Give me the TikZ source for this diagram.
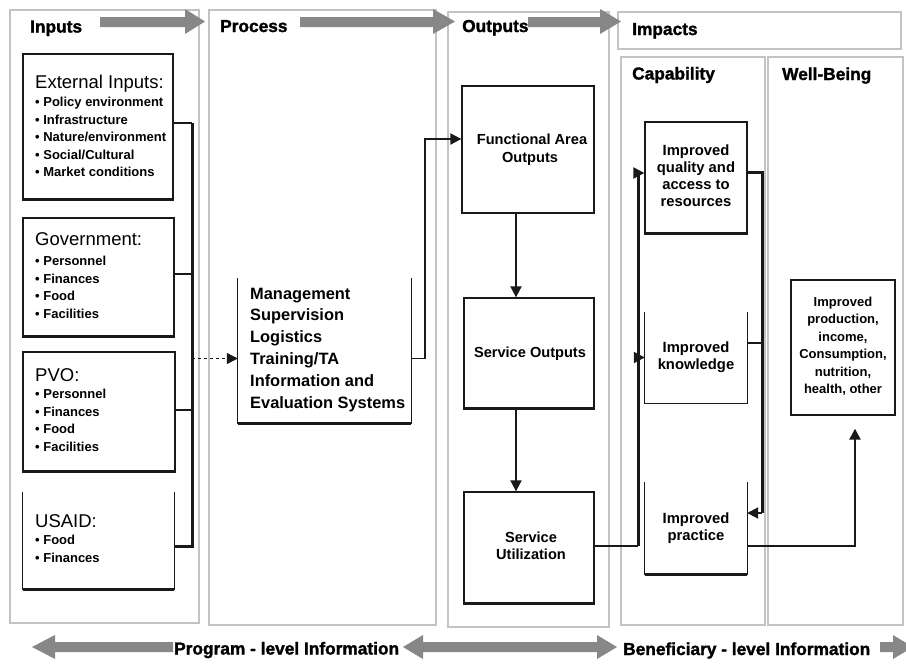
\documentclass[tikz,border=0pt]{standalone}
\usepackage{fontspec}
\setmainfont{Liberation Sans}
\newfontfamily\heavyfont[FakeBold=1.6]{Liberation Sans Bold}
\usetikzlibrary{arrows.meta}

\definecolor{framegray}{RGB}{195,195,195}
\definecolor{bandgray}{RGB}{135,135,135}
\definecolor{ink}{RGB}{25,25,25}

\tikzset{
  colframe/.style={draw=framegray, line width=2.2pt},
  blackbox/.style={draw=ink, line width=1.3pt, inner sep=0pt},
  openbox/.style={inner sep=0pt},
  hdr/.style={anchor=base west, inner sep=0pt, font=\heavyfont\fontsize{17.3}{20}\selectfont},
  ttl/.style={anchor=base west, inner sep=0pt, font=\fontsize{18.5}{22}\selectfont},
  bul/.style={anchor=base west, inner sep=0pt, font=\bfseries\fontsize{13}{15}\selectfont},
  proctxt/.style={anchor=base west, inner sep=0pt, font=\bfseries\fontsize{16.4}{20}\selectfont},
  outtxt/.style={anchor=base, inner sep=0pt, font=\bfseries\fontsize{14.6}{17}\selectfont},
  captxt/.style={anchor=base, inner sep=0pt, font=\bfseries\fontsize{14.8}{17}\selectfont},
  wbtxt/.style={anchor=base, inner sep=0pt, font=\bfseries\fontsize{13}{15}\selectfont},
  conn/.style={draw=ink, line width=1.9pt},
  thinconn/.style={draw=ink, line width=1.3pt},
  busline/.style={draw=ink, line width=3pt},
  arrowend/.style={-{Triangle[length=11pt,width=11pt]}},
  grayband/.style={fill=bandgray},
  floorline/.style={draw=ink, line width=2.6pt},
  sideline/.style={draw=ink, line width=1.3pt},
}

\begin{document}
\begin{tikzpicture}[x=1pt,y=-1pt]
\useasboundingbox (0,0) rectangle (906,664);
\clip (0,0) rectangle (906,664);
\fill[white] (0,0) rectangle (906,664);

% column frames
\draw[colframe] (10,10) rectangle (199,623);
\draw[colframe] (209,10) rectangle (436,625);
\draw[colframe] (448,12) rectangle (609,627);
\draw[colframe] (618,12) rectangle (901,49);
\draw[colframe] (621,57) rectangle (765,625);
\draw[colframe] (768,57) rectangle (903,625);

% flow bands along the top
\fill[grayband] (100,17) -- (185,17) -- (185,9) -- (205,21.5) -- (185,34) -- (185,27) -- (100,27) -- cycle;
\fill[grayband] (300,17) -- (433,17) -- (433,9) -- (455,21.5) -- (433,34) -- (433,27) -- (300,27) -- cycle;
\fill[grayband] (528,17) -- (600,17) -- (600,9) -- (621,21.5) -- (600,34) -- (600,27) -- (528,27) -- cycle;

% information bands along the bottom
\fill[grayband] (173,642) -- (55,642) -- (55,635) -- (32,647) -- (55,659) -- (55,652) -- (173,652) -- cycle;
\fill[grayband] (403,647) -- (423,635) -- (423,642) -- (597,642) -- (597,635) -- (617,647) -- (597,659) -- (597,652) -- (423,652) -- (423,659) -- cycle;
\fill[grayband] (880,642) -- (893,642) -- (893,635) -- (913,647) -- (893,659) -- (893,652) -- (880,652) -- cycle;

% headings
\node[hdr] (h-in)  at (30,32.5) {Inputs};
\node[hdr] (h-pr)  at (220,32) {Process};
\node[hdr] (h-out) at (462,32) {Outputs};
\node[hdr] (h-imp) at (632,35) {Impacts};
\node[hdr] (h-cap) at (632,79.5) {Capability};
\node[hdr] (h-wb)  at (782,80) {Well-Being};
\node[hdr] (b-prog) at (174,654.5) {Program - level Information};
\node[hdr] (b-ben)  at (623,655) {Beneficiary - level Information};

% input boxes
\node[blackbox, minimum width=150pt, minimum height=145pt] (ext) at (98,126.5) {};
\node[blackbox, minimum width=151pt, minimum height=118pt] (gov) at (98.5,277) {};
\node[blackbox, minimum width=152pt, minimum height=119pt] (pvo) at (99,411.5) {};
\node[openbox, minimum width=151pt, minimum height=97pt] (usaid) at (98.5,540.5) {};

\node[ttl] (ext-t) at (35,88) {External Inputs:};
\foreach \t [count=\i] in {Policy environment,Infrastructure,Nature/environment,Social/Cultural,Market conditions}
  \node[bul] (ext-l\i) at (35,{106.5+17.6*(\i-1)}) {• \t};
\node[ttl] (gov-t) at (35,245) {Government:};
\foreach \t [count=\i] in {Personnel,Finances,Food,Facilities}
  \node[bul] (gov-l\i) at (35,{265.6+17.6*(\i-1)}) {• \t};
\node[ttl] (pvo-t) at (35,381) {PVO:};
\foreach \t [count=\i] in {Personnel,Finances,Food,Facilities}
  \node[bul] (pvo-l\i) at (35,{398.6+17.6*(\i-1)}) {• \t};
\node[ttl] (usaid-t) at (35,527) {USAID:};
\foreach \t [count=\i] in {Food,Finances}
  \node[bul] (usaid-l\i) at (35,{544.6+17.6*(\i-1)}) {• \t};

% process box
\node[openbox, minimum width=173pt, minimum height=145pt] (proc) at (324.5,350.5) {};
\foreach \t [count=\i] in {Management,Supervision,Logistics,Training/TA,Information and,Evaluation Systems}
  \node[proctxt] (proc-l\i) at (250,{299+21.8*(\i-1)}) {\t};

% output boxes
\node[blackbox, minimum width=132pt, minimum height=127pt] (func) at (528,149.5) {};
\node[blackbox, minimum width=130pt, minimum height=110pt] (svc) at (529,353) {};
\node[blackbox, minimum width=130pt, minimum height=111pt] (use) at (529,547.5) {};
\node[outtxt] (func-l1) at (532,144) {Functional Area};
\node[outtxt] (func-l2) at (530,162) {Outputs};
\node[outtxt] (svc-l1) at (530,357) {Service Outputs};
\node[outtxt] (use-l1) at (531,542) {Service};
\node[outtxt] (use-l2) at (531,559) {Utilization};

% capability boxes
\node[blackbox, minimum width=102pt, minimum height=111pt] (qual) at (696,177.5) {};
\node[openbox, minimum width=102pt, minimum height=91pt] (know) at (696,357.5) {};
\node[openbox, minimum width=102pt, minimum height=92pt] (prac) at (696,528) {};
\foreach \t [count=\i] in {Improved,quality and,access to,resources}
  \node[captxt] (qual-l\i) at (696,{155+17.3*(\i-1)}) {\t};
\node[captxt] (know-l1) at (696,352) {Improved};
\node[captxt] (know-l2) at (696,369) {knowledge};
\node[captxt] (prac-l1) at (696,523) {Improved};
\node[captxt] (prac-l2) at (696,540) {practice};

% well-being box
\node[blackbox, minimum width=104pt, minimum height=135pt] (wb) at (843,347.5) {};
\foreach \t [count=\i] in {Improved,{production,},{income,},{Consumption,},{nutrition,},{health, other}}
  \node[wbtxt] (wb-l\i) at (843,{306+17.5*(\i-1)}) {\t};

% boxes without a top edge
\foreach \n in {usaid,proc,know,prac}
  \draw[sideline] (\n.north west) -- (\n.south west) -- (\n.south east) -- (\n.north east);

% heavier bottom edges
\foreach \n in {ext,gov,pvo,usaid,proc,svc,use,qual,prac}
  \draw[floorline] (\n.south west) -- (\n.south east);

% input bus into the process box
\coordinate (busx) at (192,0);
\coordinate (extout) at ([yshift=3.5pt]ext.east);
\coordinate (govout) at ([yshift=3pt]gov.east);
\coordinate (pvoout) at ([yshift=1.5pt]pvo.east);
\coordinate (usaidout) at ([yshift=-5.5pt]usaid.east);
\coordinate (procin) at ([yshift=-8pt]proc.west);
\draw[busline] (usaidout) -- (usaidout -| busx) -- (extout -| busx);
\draw[thinconn] (extout) -- (extout -| busx);
\draw[thinconn] (govout) -- (govout -| busx);
\draw[thinconn] (pvoout) -- (pvoout -| busx);
\draw[ink, line width=1.1pt, dashed, arrowend] (procin -| busx) -- (procin);

% process to functional outputs
\coordinate (riserx) at (425,0);
\coordinate (procout) at ([yshift=-8pt]proc.east);
\coordinate (funcin) at ([yshift=10.5pt]func.west);
\draw[conn, arrowend] (procout) -- (procout -| riserx) -- (funcin -| riserx) -- (funcin);

% down the outputs column
\draw[conn, arrowend] ([xshift=-12pt]func.south) -- ([xshift=-13pt]svc.north);
\draw[conn, arrowend] ([xshift=-13pt]svc.south) -- ([xshift=-13pt]use.north);

% utilization feeding capability
\coordinate (capbus) at (638,0);
\coordinate (useout) at ([yshift=1.5pt]use.east);
\coordinate (qualin) at ([yshift=4.5pt]qual.west);
\coordinate (knowin) at (know.west);
\draw[conn] (useout) -- (useout -| capbus);
\draw[busline] (useout -| capbus) -- (qualin -| capbus);
\draw[conn, arrowend] (qualin -| capbus) -- (qualin);
\draw[conn, arrowend] (knowin -| capbus) -- (knowin);

% resources and knowledge into practice
\coordinate (rbus) at (762,0);
\coordinate (qualout) at ([yshift=5.5pt]qual.east);
\coordinate (knowout) at ([yshift=14.5pt]know.east);
\coordinate (pracin) at ([yshift=15pt]prac.east);
\draw[conn] (knowout) -- (knowout -| rbus);
\draw[busline] (qualout) -- (qualout -| rbus) -- (pracin -| rbus);
\draw[conn, arrowend] (pracin -| rbus) -- (pracin);

% practice to well-being
\coordinate (pracout) at ([yshift=-18pt]prac.east);
\coordinate (wbin) at ([xshift=12pt]wb.south);
\draw[ink, line width=2.4pt, arrowend, shorten >=13pt] (pracout) -- (pracout -| wbin) -- (wbin);
\end{tikzpicture}
\end{document}
